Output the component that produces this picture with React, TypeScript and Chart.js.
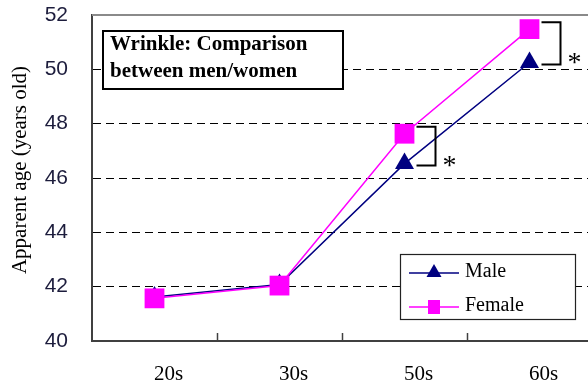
import React, { useEffect, useRef } from "react";
import { Chart, registerables } from "chart.js";

Chart.register(...registerables);

const categories = ["20s", "30s", "50s", "60s"];
const femaleValues = [41.57, 42.04, 47.63, 51.48];
const maleValues = [41.62, 42.08, 46.53, 50.25];
const significant = [false, false, true, true];
const yMin = 40;
const yMax = 52;
const yStep = 2;
const yTitle = "Apparent age (years old)";
const boxTitle = ["Wrinkle: Comparison", "between men/women"];
const seriesNames = ["Male", "Female"];

const MALE = "#000080";
const FEMALE = "#ff00ff";

const overlay = {
  id: "overlay",
  afterDraw(chart: any) {
    const { ctx, chartArea, scales } = chart;
    const x = scales.x;
    const y = scales.y;
    ctx.save();
    // top border
    ctx.strokeStyle = "#8a8a8a";
    ctx.lineWidth = 2;
    ctx.beginPath();
    ctx.moveTo(chartArea.left, chartArea.top);
    ctx.lineTo(chartArea.right, chartArea.top);
    ctx.stroke();
    // x tick marks at category boundaries
    ctx.strokeStyle = "#404040";
    ctx.lineWidth = 1.5;
    for (let i = 1; i < categories.length; i++) {
      const bx = Math.round((x.getPixelForValue(i - 1) + x.getPixelForValue(i)) / 2) + 0.5;
      ctx.beginPath();
      ctx.moveTo(bx, chartArea.bottom);
      ctx.lineTo(bx, chartArea.bottom - 8);
      ctx.stroke();
    }
    // significance brackets
    ctx.strokeStyle = "#000";
    ctx.lineWidth = 2;
    ctx.fillStyle = "#000";
    for (let i = 0; i < categories.length; i++) {
      if (!significant[i]) continue;
      const px = x.getPixelForValue(i);
      const fy = y.getPixelForValue(femaleValues[i]) - 7;
      const my = y.getPixelForValue(maleValues[i]) + 2;
      ctx.beginPath();
      ctx.moveTo(px + 12, fy);
      ctx.lineTo(px + 31, fy);
      ctx.lineTo(px + 31, my);
      ctx.lineTo(px + 12, my);
      ctx.stroke();
      ctx.font = "28px 'Liberation Serif'";
      ctx.textAlign = "center";
      ctx.textBaseline = "alphabetic";
      ctx.fillText("*", px + 45, (fy + my) / 2 + 28);
    }
    // y title
    ctx.save();
    ctx.translate(20, 170);
    ctx.rotate(-Math.PI / 2);
    ctx.font = "21px 'Liberation Serif'";
    ctx.textAlign = "center";
    ctx.textBaseline = "middle";
    ctx.fillStyle = "#000";
    ctx.fillText(yTitle, 0, 0);
    ctx.restore();
    // title box
    ctx.fillStyle = "#fff";
    ctx.fillRect(103, 31, 240, 58);
    ctx.strokeStyle = "#000";
    ctx.lineWidth = 2;
    ctx.strokeRect(103, 31, 240, 58);
    ctx.fillStyle = "#000";
    ctx.font = "bold 21px 'Liberation Serif'";
    ctx.textAlign = "left";
    ctx.textBaseline = "alphabetic";
    ctx.fillText(boxTitle[0], 110, 50);
    ctx.fillText(boxTitle[1], 110, 77);
    // legend box
    ctx.fillStyle = "#fff";
    ctx.fillRect(400.5, 254.5, 175, 65);
    ctx.strokeStyle = "#222";
    ctx.lineWidth = 1.2;
    ctx.strokeRect(400.5, 254.5, 175, 65);
    const rows = [
      { name: seriesNames[0], color: MALE, y: 273, shape: "tri" },
      { name: seriesNames[1], color: FEMALE, y: 307, shape: "rect" },
    ];
    for (const r of rows) {
      ctx.strokeStyle = r.color;
      ctx.lineWidth = 1.5;
      ctx.beginPath();
      ctx.moveTo(409, r.y);
      ctx.lineTo(459, r.y);
      ctx.stroke();
      ctx.fillStyle = r.color;
      if (r.shape === "tri") {
        ctx.beginPath();
        ctx.moveTo(434, r.y - 9);
        ctx.lineTo(441.5, r.y + 4);
        ctx.lineTo(426.5, r.y + 4);
        ctx.closePath();
        ctx.fill();
      } else {
        ctx.fillRect(428, r.y - 7, 12, 14);
      }
      ctx.fillStyle = "#000";
      ctx.font = "20px 'Liberation Serif'";
      ctx.textAlign = "left";
      ctx.textBaseline = "alphabetic";
      ctx.fillText(r.name, 465, r.y + 3.5);
    }
    ctx.restore();
  },
};

export default function App() {
  const ref = useRef<HTMLCanvasElement | null>(null);
  useEffect(() => {
    if (!ref.current) return;
    const chart = new Chart(ref.current, {
      type: "line",
      data: {
        labels: categories,
        datasets: [
          {
            label: seriesNames[1],
            data: femaleValues,
            borderColor: FEMALE,
            backgroundColor: FEMALE,
            borderWidth: 1.5,
            pointStyle: "rect",
            pointRadius: 14,
            pointHoverRadius: 14,
            pointBorderWidth: 0,
            tension: 0,
            clip: false as any,
          },
          {
            label: seriesNames[0],
            data: maleValues,
            borderColor: MALE,
            backgroundColor: MALE,
            borderWidth: 1.5,
            pointStyle: "triangle",
            pointRadius: 11,
            pointHoverRadius: 11,
            pointBorderWidth: 0,
            tension: 0,
            clip: false as any,
          },
        ],
      },
      options: {
        animation: false,
        responsive: false,
        devicePixelRatio: 1,
        events: [],
        layout: { autoPadding: false, padding: { left: 0, top: 15, right: 8, bottom: 0 } },
        plugins: {
          legend: { display: false },
          tooltip: { enabled: false },
          title: { display: false },
        },
        scales: {
          x: {
            offset: true,
            grid: { display: false, drawTicks: false },
            border: { display: true, color: "#404040", width: 2 },
            ticks: {
              font: { family: "'Liberation Serif'", size: 21 },
              color: "#000",
              padding: 21,
              labelOffset: 14,
              maxRotation: 0,
              autoSkip: false,
            },
            afterFit: (s: any) => {
              s.height = 42;
              s.paddingLeft = 0;
              s.paddingRight = 0;
              s.paddingTop = 0;
              s.paddingBottom = 0;
            },
          },
          y: {
            min: yMin,
            max: yMax,
            grid: {
              drawTicks: false,
              color: (c: any) =>
                c.tick && (c.tick.value === yMax || c.tick.value === yMin) ? "rgba(0,0,0,0)" : "#000",
              lineWidth: 1,
            },
            border: { display: true, color: "#404040", width: 2, dash: [8, 5] },
            ticks: {
              stepSize: yStep,
              font: { family: "'Liberation Sans'", size: 21 },
              color: "#1c1c3c",
              padding: 24,
            },
            afterFit: (s: any) => {
              s.width = 92;
              s.paddingTop = 0;
              s.paddingBottom = 0;
              s.paddingLeft = 0;
              s.paddingRight = 0;
            },
          },
        },
      },
      plugins: [overlay],
    });
    return () => chart.destroy();
  }, []);
  return (
    <div style={{ position: "fixed", left: 0, top: 0, width: 588, height: 383, overflow: "hidden", background: "#fff" }}>
      <canvas ref={ref} width={600} height={383} style={{ display: "block" }} />
    </div>
  );
}
